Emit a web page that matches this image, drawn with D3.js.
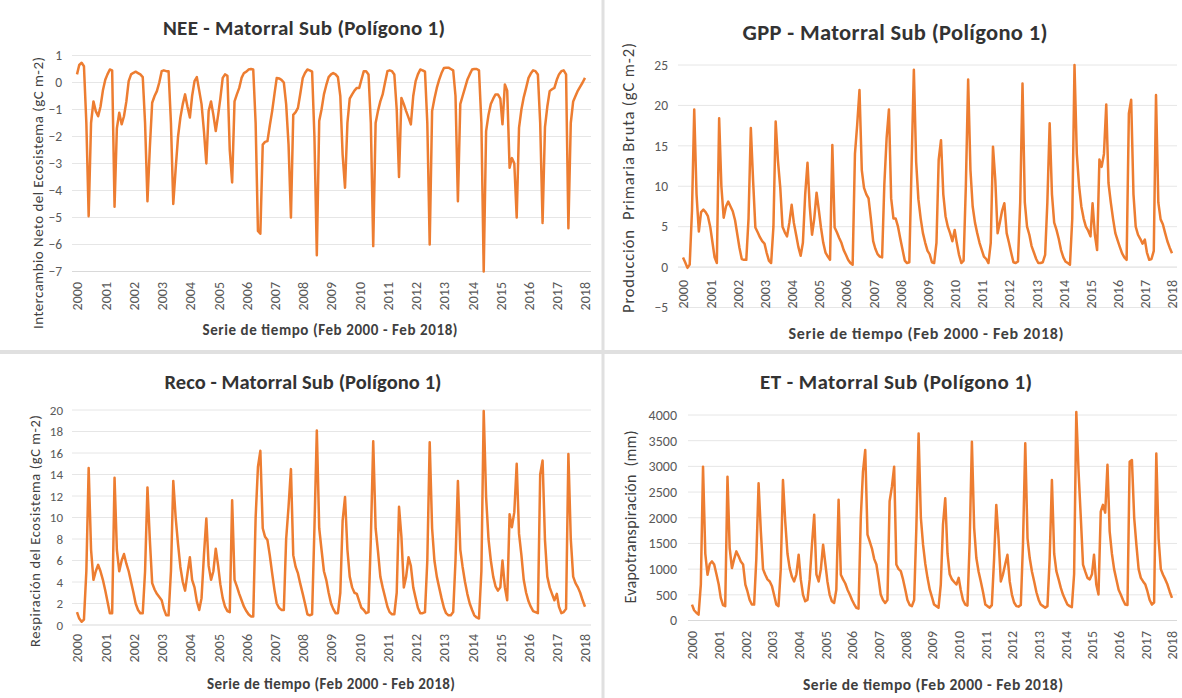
<!DOCTYPE html>
<html>
<head>
<meta charset="utf-8">
<script src="https://cdn.jsdelivr.net/npm/d3@7"></script>
<style>
  html, body { margin: 0; padding: 0; background: #ffffff; }
  svg { display: block; font-family: Carlito, Lato, "Open Sans", sans-serif; }
  text { white-space: pre; }
</style>
</head>
<body>
<svg id="chart" width="1182" height="698"></svg>
<script>
// Monthly series, Feb 2000 .. Feb 2018 (one row per year, Feb..Jan, plus the closing Feb 2018 value)
const nee = [
  0.3, 0.65, 0.73, 0.6, -1.5, -4.95, -1.5, -0.7, -1.06, -1.25, -0.9, -0.3,
  0.1, 0.3, 0.48, 0.45, -4.6, -1.7, -1.12, -1.55, -1.25, -0.7, 0.05, 0.3,
  0.36, 0.4, 0.35, 0.3, 0.2, -1.5, -4.4, -2.4, -0.75, -0.5, -0.32, 0.0,
  0.42, 0.45, 0.42, 0.42, -1.5, -4.5, -3.2, -2, -1.3, -0.8, -0.44, -0.9,
  -1.3, -0.5, 0.05, 0.2, -0.3, -0.8, -1.8, -3.0, -1.06, -0.7, -1.2, -1.8,
  -1.2, -0.6, 0.17, 0.3, 0.25, -2.5, -3.7, -0.7, -0.44, -0.2, 0.17, 0.35,
  0.4, 0.48, 0.5, 0.48, -1.5, -5.5, -5.6, -2.3, -2.2, -2.17, -1.6, -1.06,
  -0.4, 0.17, 0.15, 0.1, 0.0, -0.8, -2.3, -5.0, -1.2, -1.1, -0.94, -0.4,
  0.17, 0.35, 0.48, 0.45, 0.4, -2, -6.4, -1.43, -1.0, -0.44, -0.1, 0.2,
  0.3, 0.35, 0.3, 0.2, -0.5, -2.67, -3.9, -1.5, -0.6, -0.44, -0.3, -0.2,
  -0.2, 0.1, 0.42, 0.42, 0.3, -1.5, -6.06, -1.5, -1.06, -0.7, -0.44, 0.0,
  0.42, 0.45, 0.42, 0.3, -1.0, -3.5, -0.57, -0.8, -1.06, -1.3, -1.55, -0.5,
  0.05, 0.3, 0.48, 0.45, 0.4, -1.5, -6.0, -1.06, -0.6, -0.2, 0.1, 0.35,
  0.54, 0.55, 0.55, 0.5, 0.45, -0.5, -4.4, -0.8, -0.5, -0.2, 0.1, 0.3,
  0.48, 0.5, 0.5, 0.45, -1.5, -7.0, -1.8, -1.2, -0.8, -0.6, -0.44, -0.44,
  -0.6, -1.55, -0.07, -0.3, -3.16, -2.8, -3.0, -5.0, -1.68, -1.0, -0.55, -0.2,
  0.17, 0.33, 0.45, 0.42, 0.3, -1.5, -5.2, -1.65, -0.9, -0.32, -0.25, -0.2,
  0.1, 0.3, 0.42, 0.45, 0.3, -5.4, -1.5, -0.7, -0.5, -0.3, -0.15, 0.0,
  0.17
];

const gpp = [
  1.2, 0.6, -0.1, 0.3, 7, 19.5, 9, 4.4, 6.8, 7.1, 6.8, 6.3,
  5, 3.2, 1.2, 0.5, 18.4, 10, 6.1, 7.5, 8.1, 7.5, 6.9, 5.8,
  4, 2.4, 1.0, 0.9, 0.9, 6, 17.2, 10.6, 4.9, 4.3, 3.7, 3.2,
  2.9, 1.8, 0.8, 0.5, 5, 18, 13.1, 9.8, 5, 4.3, 3.8, 5.5,
  7.7, 5.5, 4, 2.5, 1.4, 3, 9, 12.9, 7.5, 4.0, 6, 9.2,
  7, 4.9, 3, 1.8, 1.3, 0.9, 15.1, 4.9, 4.3, 3.6, 3, 2.1,
  1.5, 0.9, 0.5, 0.3, 14, 17.6, 21.9, 12, 9.8, 9, 8.5, 6,
  3.2, 2.3, 1.6, 1.3, 1.2, 10.2, 16, 19.5, 8.5, 6, 6, 5,
  3.5, 2.2, 0.8, 0.5, 0.6, 12.4, 24.4, 13, 8.4, 6, 4.2, 3,
  2, 1.6, 0.6, 0.5, 3, 13.3, 15.7, 9, 6.3, 5, 4.2, 3.2,
  4.6, 3, 1.5, 0.5, 0.8, 10, 23.2, 12, 7.5, 5.5, 4.2, 3,
  2.1, 1.3, 1, 0.5, 3, 14.9, 10.8, 4.2, 5.5, 7, 7.9, 4.2,
  3, 1.8, 0.6, 0.5, 0.7, 8, 22.7, 8, 5, 4, 2.6, 1.8,
  1.0, 0.5, 0.5, 0.6, 1.5, 8, 17.8, 9, 5.5, 4.6, 3.5, 2.1,
  1.2, 0.7, 0.5, 0.3, 6, 25, 14, 10, 7.5, 6, 5, 4.5,
  3.8, 7.9, 4, 2.1, 13.3, 12.4, 14, 20.1, 10.4, 8, 6, 4.2,
  3.3, 2.5, 1.7, 1.2, 0.9, 19, 20.7, 9, 5, 4, 3.5, 2.9,
  3.4, 1.8, 0.9, 1, 2, 21.3, 8, 5.9, 5.3, 4.2, 3.2, 2.4,
  1.7
];

const reco = [
  1.2, 0.6, 0.3, 0.5, 5, 14.6, 7, 4.2, 5, 5.6, 5, 4.2,
  3.2, 2.2, 1.1, 1.1, 13.7, 7, 5, 6, 6.6, 5.7, 5, 4,
  3, 2, 1.4, 1.1, 1.1, 5, 12.8, 7.9, 3.9, 3.3, 2.9, 2.6,
  2.3, 1.5, 0.9, 0.9, 5, 13.4, 10, 7.5, 5.4, 4, 3.2, 4.8,
  6.3, 4.2, 3.5, 2.2, 1.4, 2.5, 6.5, 9.9, 5.5, 4.2, 5, 7.1,
  5.5, 3.8, 2.5, 1.7, 1.3, 1.2, 11.6, 4.2, 3.6, 2.9, 2.3, 1.7,
  1.3, 1, 0.8, 0.8, 10, 14.7, 16.2, 9, 8.2, 7.9, 6.5, 4.8,
  3.2, 2, 1.6, 1.4, 1.4, 8, 11, 14.5, 6.5, 5.4, 4.8, 3.8,
  2.9, 2, 1, 0.9, 1, 9, 18.1, 9, 7, 5, 4.2, 3,
  2, 1.5, 1.1, 1.1, 3, 9.7, 11.9, 7, 4.5, 3.5, 3, 2.9,
  2.2, 1.6, 1.4, 1.1, 1.2, 8, 17.1, 9, 6.9, 4.5, 3.5, 2.6,
  1.7, 1.2, 1, 1, 3, 11, 8.2, 3.5, 4.5, 6.3, 5.5, 3.5,
  2.5, 1.6, 1.1, 1.1, 1.2, 6, 17, 9, 6, 4.5, 3.5, 2.5,
  1.6, 1.1, 0.9, 0.9, 1.2, 6, 13.4, 7, 5.4, 4, 2.9, 2,
  1.4, 0.9, 0.7, 0.6, 5, 19.9, 11.9, 8, 6, 4.5, 3.6, 3.2,
  3.5, 6, 3.5, 2.3, 10.3, 9.1, 10.5, 15, 8.5, 6.5, 4.2, 3,
  2.2, 1.7, 1.3, 1.2, 1.1, 14, 15.3, 7.9, 4.5, 3.5, 2.9, 2.3,
  2.9, 1.7, 1.1, 1.2, 1.5, 15.9, 8, 4.5, 3.9, 3.5, 3, 2.3,
  1.7
];

const et = [
  310, 200, 150, 115, 700, 2995, 1300, 890, 1100, 1150, 1090, 900,
  700, 440, 300, 280, 2800, 1410, 1020, 1200, 1345, 1250, 1150, 1090,
  700, 570, 400, 310, 310, 1200, 2670, 1735, 1000, 890, 800, 760,
  665, 500, 310, 280, 1000, 2735, 1930, 1300, 1020, 850, 760, 900,
  1280, 800, 500, 375, 400, 800, 1475, 2060, 900, 760, 1000, 1475,
  1100, 760, 500, 375, 340, 600, 2350, 890, 800, 720, 600, 505,
  400, 320, 245, 230, 2000, 2900, 3320, 1670, 1540, 1400, 1200, 1090,
  800, 505, 400, 340, 400, 2320, 2600, 2995, 1090, 1000, 960, 800,
  600, 400, 300, 280, 400, 1800, 3640, 2000, 1475, 1100, 830, 600,
  450, 310, 280, 250, 700, 1865, 2380, 1300, 900, 800, 750, 700,
  830, 600, 400, 310, 290, 1500, 3480, 1800, 1215, 950, 760, 550,
  310, 280, 250, 300, 1200, 2250, 1600, 760, 900, 1100, 1280, 760,
  500, 350, 280, 270, 300, 1500, 3450, 1600, 1215, 950, 760, 550,
  400, 310, 280, 250, 280, 1200, 2735, 1300, 960, 800, 635, 500,
  400, 310, 280, 260, 900, 4060, 2900, 2000, 1090, 950, 830, 800,
  900, 1280, 700, 505, 2120, 2250, 2100, 3030, 1735, 1300, 1000, 800,
  600, 505, 400, 310, 300, 3090, 3125, 2000, 1475, 1000, 830, 760,
  700, 570, 400, 310, 350, 3250, 1600, 1000, 890, 800, 700, 560,
  440
];

// Axis tick labels
const yearTicks = d3.range(2000, 2019);
const neeTicks = [1, 0, -1, -2, -3, -4, -5, -6, -7];
const gppTicks = [25, 20, 15, 10, 5, 0, -5];
const recoTicks = [20, 18, 16, 14, 12, 10, 8, 6, 4, 2, 0];
const etTicks = [4000, 3500, 3000, 2500, 2000, 1500, 1000, 500, 0];

const startMonth = new Date(2000, 1, 1);
const dateOf = i => d3.timeMonth.offset(startMonth, i);

const subtitle = "Serie de tiempo (Feb 2000 - Feb 2018)";

// Layout of the four panels (titles are fitted to their measured widths)
const panels = [
  { title: "NEE - Matorral Sub (Polígono 1)", yTitle: "Intercambio Neto del Ecosistema (gC m-2)",
    values: nee, ticks: neeTicks, yDomain: [-7, 1], yRange: [271.5, 55.5],
    xRange: [77, 585], grid: [72, 591], axisAt: -7, labelTop: 282,
    titleX: 304, titleY: 35, titleW: 282, titleSize: 21,
    yTitleX: 38, yTitleY: 193, yTitleW: 272, yTitleSize: 15,
    tickX: 62, tickSize: 13.5, xTitleX: 330, xTitleY: 330, xTitleW: 255, xTitleSize: 15 },
  { title: "GPP - Matorral Sub (Polígono 1)", yTitle: "Producción  Primaria Bruta (gC m-2)",
    values: gpp, ticks: gppTicks, yDomain: [-5, 25], yRange: [307.5, 65],
    xRange: [683, 1172], grid: [678, 1177], axisAt: 0, labelTop: 280,
    titleX: 895, titleY: 40, titleW: 305, titleSize: 22.5,
    yTitleX: 628, yTitleY: 178, yTitleW: 270, yTitleSize: 16.5,
    tickX: 668, tickSize: 13.5, xTitleX: 926, xTitleY: 333, xTitleW: 275, xTitleSize: 16 },
  { title: "Reco - Matorral Sub (Polígono 1)", yTitle: "Respiración del Ecosistema (gC m-2)",
    values: reco, ticks: recoTicks, yDomain: [0, 20], yRange: [625, 410],
    xRange: [77, 585], grid: [72, 591], axisAt: 0, labelTop: 634,
    titleX: 303, titleY: 389, titleW: 277, titleSize: 20.5,
    yTitleX: 35, yTitleY: 531, yTitleW: 232, yTitleSize: 14.5,
    tickX: 63, tickSize: 13, xTitleX: 331, xTitleY: 684, xTitleW: 248, xTitleSize: 15 },
  { title: "ET - Matorral Sub (Polígono 1)", yTitle: "Evapotranspiración  (mm)",
    values: et, ticks: etTicks, yDomain: [0, 4000], yRange: [620.5, 415],
    xRange: [692, 1172], grid: [688, 1177], axisAt: 0, labelTop: 631,
    titleX: 896, titleY: 389, titleW: 272, titleSize: 21,
    yTitleX: 630, yTitleY: 517, yTitleW: 173, yTitleSize: 16,
    tickX: 677, tickSize: 14, xTitleX: 933, xTitleY: 684, xTitleW: 260, xTitleSize: 15.5 }
];

const svg = d3.select("#chart");

// Panel separators
svg.append("line").attr("x1", 603).attr("x2", 603).attr("y1", 0).attr("y2", 698)
  .attr("stroke", "#e0e0e0").attr("stroke-width", 3);
svg.append("line").attr("x1", 0).attr("x2", 1182).attr("y1", 352).attr("y2", 352)
  .attr("stroke", "#e0e0e0").attr("stroke-width", 4);

panels.forEach(p => {
  const g = svg.append("g");
  const x = d3.scaleTime().domain([dateOf(0), dateOf(p.values.length - 1)]).range(p.xRange);
  const y = d3.scaleLinear().domain(p.yDomain).range(p.yRange);

  // Horizontal gridlines
  g.append("g").selectAll("line").data(p.ticks.filter(t => t !== p.axisAt)).join("line")
    .attr("x1", p.grid[0]).attr("x2", p.grid[1])
    .attr("y1", d => y(d)).attr("y2", d => y(d))
    .attr("stroke", "#e6e6e6").attr("stroke-width", 1);

  // Horizontal category axis line
  g.append("line").attr("x1", p.grid[0]).attr("x2", p.grid[1])
    .attr("y1", y(p.axisAt)).attr("y2", y(p.axisAt))
    .attr("stroke", "#d9d9d9").attr("stroke-width", 1);

  // Y axis labels
  const yAxis = d3.axisLeft(y).tickValues(p.ticks).tickSize(0).tickPadding(0)
    .tickFormat(d3.format("d"));
  const ya = g.append("g").attr("transform", `translate(${p.tickX},0)`).call(yAxis);
  ya.select(".domain").remove();
  ya.selectAll("text").attr("fill", "#595959").style("font-size", p.tickSize + "px")
    .style("font-family", "Carlito, Lato, sans-serif");

  // X axis year labels, rotated
  const xAxis = d3.axisBottom(x).tickValues(yearTicks.map(yr => new Date(yr, 1, 1)))
    .tickFormat(d3.timeFormat("%Y")).tickSize(0);
  const xa = g.append("g").attr("transform", `translate(0,${p.labelTop})`).call(xAxis);
  xa.select(".domain").remove();
  xa.selectAll("text")
    .attr("y", 0).attr("x", 0).attr("dy", "0.35em")
    .attr("transform", "rotate(-90)")
    .style("text-anchor", "end")
    .attr("fill", "#595959").style("font-size", "14px")
    .style("font-family", "Carlito, Lato, sans-serif");

  // Series line
  const line = d3.line().x((d, i) => x(dateOf(i))).y(d => y(d));
  g.append("path").datum(p.values).attr("d", line)
    .attr("fill", "none").attr("stroke", "#ED7D31").attr("stroke-width", 2.5)
    .attr("stroke-linejoin", "round");

  // Chart title
  g.append("text").attr("x", p.titleX).attr("y", p.titleY).attr("text-anchor", "middle")
    .attr("font-weight", "bold").attr("font-size", p.titleSize).attr("fill", "#333333")
    .attr("textLength", p.titleW).attr("lengthAdjust", "spacing")
    .text(p.title);

  // Axis titles
  g.append("text").attr("transform", `translate(${p.yTitleX},${p.yTitleY}) rotate(-90)`)
    .attr("text-anchor", "middle").attr("dominant-baseline", "central")
    .attr("font-size", p.yTitleSize).attr("fill", "#404040")
    .attr("textLength", p.yTitleW).attr("lengthAdjust", "spacing")
    .text(p.yTitle);
  g.append("text").attr("x", p.xTitleX).attr("y", p.xTitleY).attr("text-anchor", "middle")
    .attr("dominant-baseline", "central")
    .attr("font-weight", "bold").attr("font-size", p.xTitleSize).attr("fill", "#404040")
    .attr("textLength", p.xTitleW).attr("lengthAdjust", "spacing")
    .text(subtitle);
});
</script>
</body>
</html>
